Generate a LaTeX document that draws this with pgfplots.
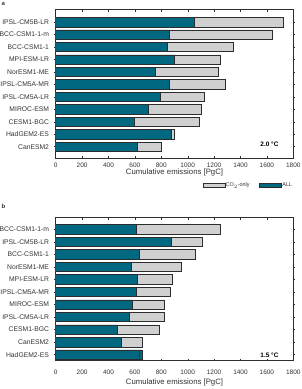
\documentclass[border=0pt]{standalone}
\usepackage{fontspec}
\setmainfont{Liberation Sans}
\usepackage{pgfplots}
\pgfplotsset{compat=1.18}
\definecolor{tealall}{RGB}{0,104,128}
\definecolor{greyco}{RGB}{208,208,208}
\definecolor{edgec}{RGB}{45,45,45}
\definecolor{txt}{RGB}{50,50,50}
\pgfplotsset{
  panel/.style={
    scale only axis,
    width=237.6bp,
    xmin=0, xmax=1800,
    xtick={0,200,...,1800},
    y dir=reverse,
    ytick={1,...,11},
    ytick pos=both,
    yticklabel pos=left,
    xtick pos=both,
    xticklabel pos=bottom,
    tick align=inside,
    major tick length=2bp,
    tick style={edgec, line width=0.4bp},
    axis line style={edgec, line width=0.5bp},
    /pgf/number format/assume math mode=true,
    /pgf/number format/1000 sep={},
    xticklabel style={font=\fontsize{6.5}{7}\selectfont, text=txt, inner sep=0pt, anchor=center},
    yticklabel style={font=\fontsize{6.8}{8}\selectfont, text=txt, inner sep=0pt, xshift=-4.5bp},
    xlabel style={font=\fontsize{7.8}{9}\selectfont, text=txt, inner sep=0pt, at={(axis description cs:0.5,0)}, anchor=center},
    xlabel={Cumulative emissions [PgC]},
    xbar, bar shift=0pt, bar width=0.75,
    every axis plot/.append style={line width=0.6bp, draw=edgec},
  },
}
\begin{document}
\begin{tikzpicture}
\useasboundingbox (0,0) rectangle (302bp,389bp);
\node[anchor=north west, inner sep=0pt, font=\fontsize{6}{7}\selectfont\bfseries, text=txt] at (1.5bp,387bp) {a};
\node[anchor=north west, inner sep=0pt, font=\fontsize{6}{7}\selectfont\bfseries, text=txt] at (1.5bp,185.5bp) {b};
% panel a
\begin{axis}[panel,
  at={(55.7bp,230.5bp)}, anchor=south west,
  height=148.8bp,
  ymin=0, ymax=11.95,
  yticklabels={IPSL-CM5B-LR,BCC-CSM1-1-m,BCC-CSM1-1,MPI-ESM-LR,NorESM1-ME,IPSL-CM5A-MR,IPSL-CM5A-LR,MIROC-ESM,CESM1-BGC,HadGEM2-ES,CanESM2},
  xticklabel style={yshift=-6.5bp},
  xlabel style={yshift=-13.5bp},
  legend columns=2,
  legend style={at={(rel axis cs:0.617,-0.183)}, anchor=west, draw=none, fill=none, inner sep=0pt,
    font=\fontsize{5.5}{6}\selectfont, text=txt,
    nodes={inner sep=0.6bp, anchor=west},
    /tikz/every even column/.append style={column sep=9bp}},
  legend image code/.code={\draw[#1, line width=0.6bp] (0bp,-2bp) rectangle (22bp,2bp);},
]
\addplot[fill=greyco] coordinates {(1727,1) (1641,2) (1347,3) (1249,4) (1234,5) (1287,6) (1122,7) (1100,8) (1087,9) (902,10) (801,11)};
\addlegendentry{CO$_2$-only}
\addplot[fill=tealall] coordinates {(1049,1) (859,2) (847,3) (902,4) (758,5) (857,6) (789,7) (700,8) (592,9) (877,10) (619,11)};
\addlegendentry{ALL}
\node[anchor=east, inner sep=0pt, font=\fontsize{6.5}{7}\selectfont\bfseries, text=black] at (rel axis cs:0.9385,0.097) {2.0 °C};
\end{axis}
% panel b
\begin{axis}[panel,
  at={(55.7bp,28.3bp)}, anchor=south west,
  height=143bp,
  ymin=0.08, ymax=11.48,
  yticklabels={BCC-CSM1-1-m,IPSL-CM5B-LR,BCC-CSM1-1,NorESM1-ME,MPI-ESM-LR,IPSL-CM5A-MR,MIROC-ESM,IPSL-CM5A-LR,CESM1-BGC,CanESM2,HadGEM2-ES},
  xticklabel style={yshift=-11.5bp},
  xlabel style={yshift=-21.5bp},
]
\addplot[fill=greyco] coordinates {(1246,1) (1107,2) (1059,3) (953,4) (885,5) (867,6) (822,7) (819,8) (786,9) (655,10) (632,11)};
\addplot[fill=tealall] coordinates {(614,1) (875,2) (634,3) (569,4) (617,5) (612,6) (579,7) (561,8) (470,9) (498,10) (657,11)};
\addplot[fill=none, forget plot] coordinates {(632,11)};
\node[anchor=east, inner sep=0pt, font=\fontsize{6.5}{7}\selectfont\bfseries, text=black] at (rel axis cs:0.9385,0.04) {1.5 °C};
\end{axis}
\end{tikzpicture}
\end{document}
